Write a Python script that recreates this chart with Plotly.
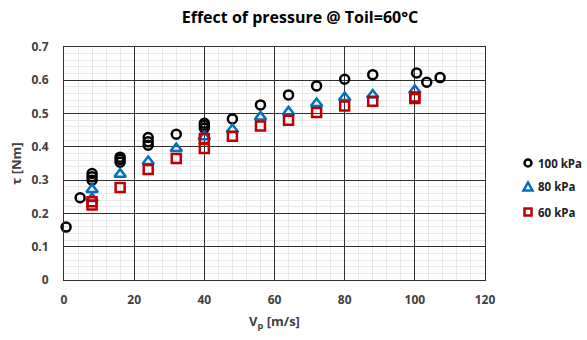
import plotly.graph_objects as go

# 100 kPa
x100 = [0.6, 4.6, 8, 8, 8, 16, 16, 16, 24, 24, 24, 32, 40, 40, 40, 48, 56, 64, 72, 80, 88, 100.5, 103.4, 107.2]
y100 = [0.159, 0.247, 0.32, 0.31, 0.30, 0.369, 0.362, 0.354, 0.428, 0.415, 0.405, 0.438, 0.471, 0.464, 0.456, 0.484, 0.526, 0.556, 0.583, 0.603, 0.617, 0.622, 0.594, 0.608]
# 80 kPa
x80 = [8, 8, 16, 24, 32, 40, 48, 56, 64, 72, 80, 88, 100]
y80 = [0.272, 0.245, 0.318, 0.356, 0.395, 0.430, 0.452, 0.490, 0.505, 0.530, 0.548, 0.556, 0.570]
# 60 kPa
x60 = [8, 8, 16, 24, 32, 40, 40, 48, 56, 64, 72, 80, 88, 100, 100]
y60 = [0.235, 0.225, 0.278, 0.332, 0.365, 0.425, 0.395, 0.432, 0.463, 0.480, 0.503, 0.523, 0.537, 0.545, 0.550]

series_names = ["100 kPa", "80 kPa", "60 kPa"]
series_colors = ["black", "#0070C0", "#C00000"]
series_symbols = ["circle-open", "triangle-up-open", "square-open"]

FONT = "Open Sans"
fig = go.Figure()
for xs, ys, nm, col, sym in zip([x100, x80, x60], [y100, y80, y60], series_names, series_colors, series_symbols):
    fig.add_trace(go.Scatter(x=xs, y=ys, mode="markers", name=nm, showlegend=False, cliponaxis=False,
                             marker=dict(symbol=sym, size=10 if "triangle" in sym else 9, color=col,
                                         line=dict(width=2.5))))

# plot area in pixels
L, R, T, B = 64, 485, 47, 280
W, H = R - L, B - T

def px(xp):
    return (xp - L) / W

def py(yp):
    return (B - yp) / H

# custom legend (symbols + text)
leg_y = [163, 187, 212]
sym_x = 528
for i, (nm, col) in enumerate(zip(series_names, series_colors)):
    common = dict(xref="paper", yref="paper", xsizemode="pixel", ysizemode="pixel",
                  xanchor=px(sym_x), yanchor=py(leg_y[i]), line=dict(color=col, width=2.5),
                  fillcolor="rgba(0,0,0,0)")
    if i == 0:
        fig.add_shape(type="circle", x0=-3.5, x1=3.5, y0=-3.5, y1=3.5, **common)
    elif i == 1:
        fig.add_shape(type="path", path="M -4.5,-3.5 L 4.5,-3.5 L 0,4.5 Z", **common)
    else:
        fig.add_shape(type="rect", x0=-3.5, x1=3.5, y0=-3.5, y1=3.5, **common)
    fig.add_annotation(text=f"<b>{nm}</b>", x=px(536), y=py(leg_y[i]), xref="paper", yref="paper",
                       xanchor="left", yanchor="middle", showarrow=False,
                       font=dict(size=11.5, color="#202020", family=FONT))

fig.update_layout(
    width=587, height=340,
    margin=dict(l=L, r=587 - R, t=T, b=340 - B, autoexpand=False),
    paper_bgcolor="white", plot_bgcolor="white",
    font=dict(family=FONT, size=12, color="#404040"),
    showlegend=False,
    title=dict(text="<b>Effect of pressure @ Toil=60°C</b>", x=300/587, xanchor="center",
               y=1 - 17/340, yanchor="middle", font=dict(size=16, color="black", family=FONT)),
    xaxis=dict(range=[0, 120], dtick=20, tick0=0, showgrid=True, gridcolor="#303030", gridwidth=1,
               minor=dict(dtick=4, showgrid=True, gridcolor="#e8e8e8", gridwidth=1),
               showline=True, linecolor="#303030", linewidth=1, mirror=True, zeroline=False,
               ticks="", ticklabelstandoff=9,
               tickfont=dict(size=12, color="#404040", family=FONT, weight="bold"),
               title=dict(text="<b>V<sub>p</sub> [m/s]</b>", font=dict(size=13, color="#404040"), standoff=9)),
    yaxis=dict(range=[0, 0.7], dtick=0.1, tick0=0, showgrid=True, gridcolor="#303030", gridwidth=1,
               minor=dict(dtick=0.02, showgrid=True, gridcolor="#e8e8e8", gridwidth=1),
               showline=True, linecolor="#303030", linewidth=1, mirror=True, zeroline=False,
               ticks="", tickformat=".1~f", ticklabelstandoff=12,
               tickfont=dict(size=12, color="#404040", family=FONT, weight="bold"),
               title=dict(text="<b>τ [Nm]</b>", font=dict(size=13, color="#404040"), standoff=6)),
)
fig.write_html("out.html")
